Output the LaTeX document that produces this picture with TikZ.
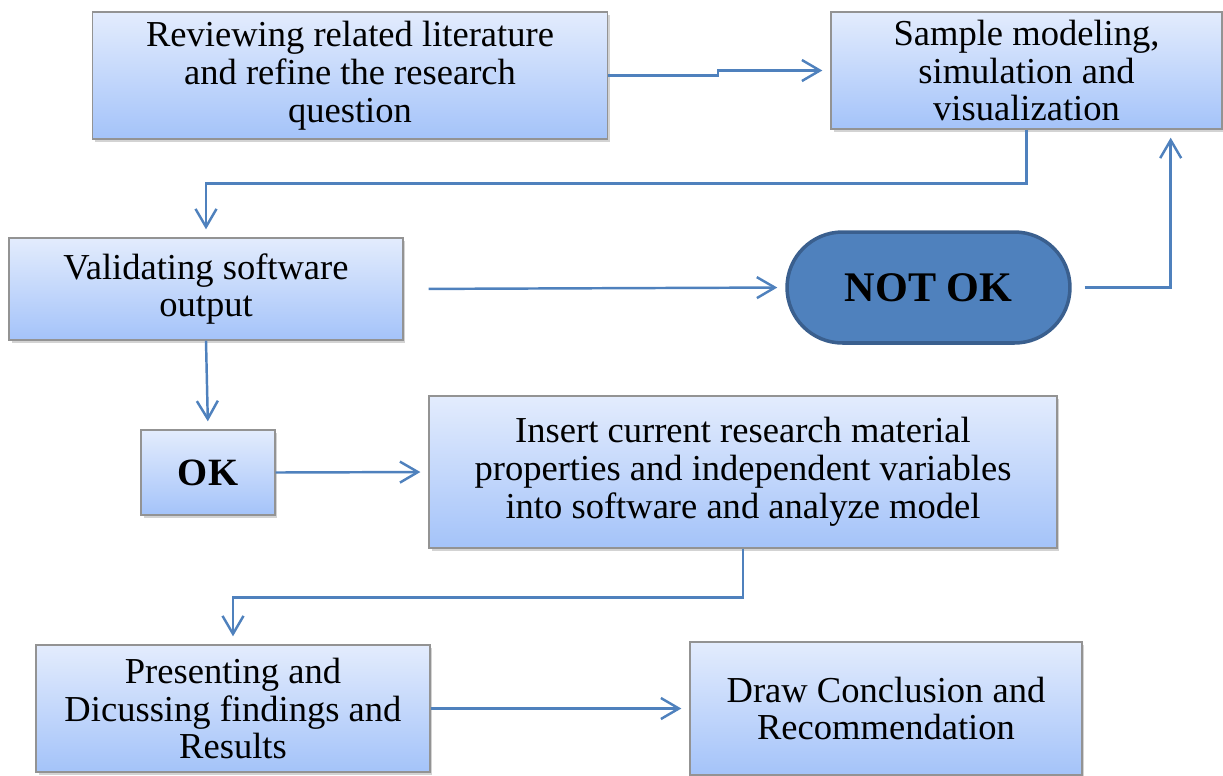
\documentclass[tikz,border=0pt]{standalone}
\usepackage{fontspec}
\setmainfont{Liberation Serif}
\usetikzlibrary{arrows.meta,shadows}

\definecolor{linkblue}{HTML}{4F81BD}
\definecolor{pilledge}{HTML}{3A5F8E}
\definecolor{boxtop}{HTML}{E3ECFD}
\definecolor{boxbottom}{HTML}{A4C3F9}

\tikzset{
    box/.style={rectangle,draw=gray!85,line width=0.8pt,top color=boxtop,bottom color=boxbottom,
        align=center,inner sep=0pt,font=\fontsize{20.8}{21.6}\selectfont,
        drop shadow={shadow xshift=0.05cm,shadow yshift=-0.06cm,opacity=0.35}},
    pill/.style={rounded rectangle,draw=pilledge,line width=2pt,fill=linkblue,
        inner sep=0pt,font=\fontsize{24}{26}\selectfont\bfseries},
    conn/.style={draw=linkblue,line width=1.4pt,-{Straight Barb[length=3.6mm,width=4.2mm,line width=1.4pt]},shorten >=1.6mm}
}
\usetikzlibrary{shapes.misc}

\begin{document}
\begin{tikzpicture}[x=0.02cm,y=-0.02cm]

    \useasboundingbox (0,0) rectangle (1223,775);

    \path   (350,75.5) node (rev) [box,minimum width=10.3cm,minimum height=2.54cm]
                {Reviewing related literature\\and refine the research\\question}
            (1026.5,70.5) node (sample) [box,minimum width=7.82cm,minimum height=2.34cm]
                {Sample modeling,\\simulation and\\visualization}
            (206,289) node (valid) [box,minimum width=7.88cm,minimum height=2.04cm]
                {Validating software\\output}
            (928.5,287.5) node (notok) [pill,minimum width=5.66cm,minimum height=2.22cm] {NOT OK}
            (208,472.5) node (ok) [box,minimum width=2.68cm,minimum height=1.7cm,
                font=\fontsize{22}{24}\selectfont\bfseries] {OK}
            (743,472) node (insert) [box,minimum width=12.56cm,minimum height=3.04cm]
                {Insert current research material\\properties and independent variables\\into software and analyze model}
            (233,708.5) node (pres) [box,minimum width=7.88cm,minimum height=2.54cm]
                {Presenting and\\Dicussing findings and\\Results}
            (886,708.5) node (concl) [box,minimum width=7.84cm,minimum height=2.66cm]
                {Draw Conclusion and\\Recommendation};

    % connectors
    \draw[conn] (rev.east) -- ++(110,0) |- (sample.west);
    \draw[conn] (sample.south) -- ++(0,54) -| (valid.north);
    \draw[conn,shorten <=0.5cm] (valid.east) -- (notok.west);
    \draw[conn,shorten <=0.26cm] (notok.east) -| ([xshift=-1.04cm]sample.south east);
    \draw[conn] (valid.south) -- (ok.north);
    \draw[conn] (ok.east) -- (insert.west);
    \draw[conn] (insert.south) -- ++(0,49) -| (pres.north);
    \draw[conn] (pres.east) -- (concl.west);

\end{tikzpicture}
\end{document}
